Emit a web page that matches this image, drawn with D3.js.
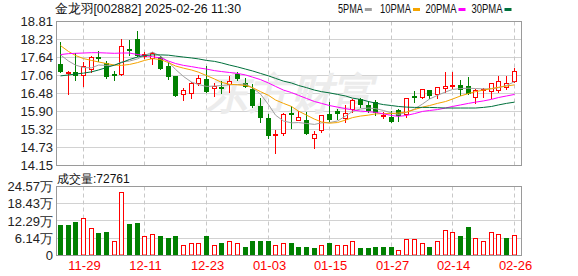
<!DOCTYPE html>
<html>
<head>
<meta charset="utf-8">
<script src="https://cdn.jsdelivr.net/npm/d3@7"></script>
<style>
body { margin: 0; background: #fff; }
svg { display: block; }
text { font-family: "Liberation Sans", Arial, sans-serif; }
</style>
</head>
<body>
<div id="chart"></div>
<script>
"use strict";

const title = '金龙羽[002882] 2025-02-26 11:30';

const dates = [
	'11-26', '11-27', '11-28', '11-29', '12-02', '12-03', '12-04', '12-05', '12-06', '12-09',
	'12-10', '12-11', '12-12', '12-13', '12-16', '12-17', '12-18', '12-19', '12-20', '12-23',
	'12-24', '12-25', '12-26', '12-27', '12-30', '12-31', '01-02', '01-03', '01-06', '01-07',
	'01-08', '01-09', '01-10', '01-13', '01-14', '01-15', '01-16', '01-17', '01-20', '01-21',
	'01-22', '01-23', '01-24', '01-27', '02-05', '02-06', '02-07', '02-10', '02-11', '02-12',
	'02-13', '02-14', '02-17', '02-18', '02-19', '02-20', '02-21', '02-24', '02-25', '02-26'
];

const open = [
	17.44, 17.14, 17.19, 17.07, 17.27, 17.66, 17.48, 17.11, 17.11, 17.92,
	18.24, 17.70, 17.63, 17.66, 17.37, 17.05, 16.45, 16.50, 16.81, 16.95,
	16.66, 16.70, 16.78, 17.10, 16.81, 16.63, 16.09, 15.70, 15.15, 15.19,
	15.86, 15.61, 15.61, 15.03, 15.30, 15.81, 15.90, 15.68, 15.97, 16.29,
	16.10, 16.19, 15.76, 15.73, 15.93, 15.81, 16.39, 16.38, 16.58, 16.45,
	16.65, 16.71, 16.76, 16.72, 16.36, 16.61, 16.56, 16.59, 16.68, 16.89
];
const high = [
	18.14, 17.20, 17.80, 17.50, 17.70, 17.86, 17.53, 17.21, 18.24, 18.21,
	18.50, 17.82, 17.81, 17.70, 17.50, 17.06, 16.67, 16.85, 17.08, 17.37,
	16.81, 16.90, 17.06, 17.19, 16.98, 16.78, 16.32, 15.82, 15.30, 15.84,
	16.09, 15.91, 15.88, 15.28, 15.80, 16.20, 15.98, 16.11, 16.30, 16.35,
	16.24, 16.27, 15.89, 15.92, 15.99, 16.33, 16.57, 16.63, 16.58, 16.68,
	17.18, 17.18, 16.92, 17.00, 16.63, 16.65, 16.83, 17.06, 17.06, 17.30
];
const low = [
	17.19, 16.46, 16.93, 16.73, 17.19, 17.54, 16.99, 16.92, 17.08, 17.73,
	17.69, 17.64, 17.42, 17.27, 16.95, 16.41, 16.26, 16.33, 16.76, 16.53,
	16.41, 16.50, 16.54, 16.92, 16.68, 16.03, 15.56, 15.05, 14.57, 15.14,
	15.35, 15.61, 15.18, 14.73, 15.22, 15.59, 15.65, 15.57, 15.89, 16.05,
	15.88, 15.78, 15.70, 15.56, 15.59, 15.72, 16.19, 16.35, 16.35, 16.33,
	16.53, 16.66, 16.43, 16.45, 16.16, 16.38, 16.33, 16.53, 16.63, 16.86
];
const close = [
	17.22, 17.19, 17.08, 17.37, 17.66, 17.62, 17.05, 17.08, 18.01, 17.89,
	17.73, 17.76, 17.78, 17.31, 17.06, 16.43, 16.58, 16.81, 16.97, 16.56,
	16.72, 16.66, 16.89, 16.99, 16.73, 16.11, 15.73, 15.14, 15.17, 15.81,
	15.81, 15.72, 15.19, 15.17, 15.78, 15.65, 15.85, 15.84, 16.27, 16.14,
	15.96, 15.87, 15.80, 15.59, 15.79, 16.32, 16.37, 16.62, 16.43, 16.68,
	16.71, 16.74, 16.62, 16.51, 16.58, 16.63, 16.81, 16.87, 16.83, 17.20
];

// 成交量, 万手
const volume = [
	10.7, 10.7, 12.1, 13.2, 9.85, 7.95, 8.2, 5.2, 22.7, 11.2,
	11.75, 7.1, 7.5, 7.1, 6.4, 7.1, 3.9, 4.6, 4.3, 7.1,
	3.6, 4.4, 5.0, 4.3, 3.2, 5.3, 5.0, 5.3, 3.6, 4.3,
	4.6, 2.85, 2.85, 2.5, 3.6, 4.3, 3.6, 3.6, 5.0, 2.5,
	2.5, 2.85, 3.2, 3.2, 2.0, 5.7, 5.7, 4.6, 3.2, 5.0,
	9.1, 8.2, 6.8, 10.3, 6.3, 5.0, 8.5, 7.5, 6.4, 7.28
];
// 1 = up day (red bar), 0 = down day (green bar)
const volUp = [
	0, 0, 0, 1, 1, 0, 0, 1, 1, 0,
	0, 1, 1, 0, 0, 0, 1, 1, 1, 0,
	1, 0, 1, 1, 0, 0, 0, 0, 1, 1,
	0, 0, 0, 0, 1, 0, 1, 1, 1, 0,
	0, 0, 0, 0, 1, 1, 1, 1, 0, 1,
	1, 1, 0, 0, 1, 1, 1, 1, 0, 1
];
const lastVolume = '72761';

const ma5 = [
	17.73, 17.53, 17.40, 17.32, 17.31, 17.40, 17.39, 17.39, 17.50, 17.53,
	17.60, 17.71, 17.82, 17.69, 17.50, 17.26, 17.03, 16.85, 16.77, 16.71,
	16.72, 16.74, 16.76, 16.77, 16.79, 16.66, 16.46, 16.12, 15.78, 15.59,
	15.53, 15.54, 15.51, 15.48, 15.53, 15.54, 15.59, 15.75, 15.90, 15.98,
	16.01, 15.99, 15.93, 15.85, 15.80, 15.87, 15.98, 16.14, 16.30, 16.42,
	16.53, 16.61, 16.64, 16.65, 16.64, 16.63, 16.63, 16.67, 16.74, 16.86
];
const ma10 = [
	18.03, 17.84, 17.71, 17.61, 17.55, 17.50, 17.45, 17.40, 17.39, 17.42,
	17.48, 17.55, 17.61, 17.58, 17.48, 17.37, 17.30, 17.24, 17.17, 17.06,
	16.95, 16.84, 16.78, 16.76, 16.74, 16.67, 16.54, 16.42, 16.27, 16.16,
	16.06, 15.91, 15.78, 15.65, 15.56, 15.52, 15.54, 15.62, 15.70, 15.75,
	15.78, 15.82, 15.83, 15.83, 15.85, 15.88, 15.96, 16.04, 16.09, 16.16,
	16.22, 16.30, 16.40, 16.48, 16.54, 16.59, 16.64, 16.68, 16.72, 16.76
];
const ma20 = [
	17.74, 17.77, 17.78, 17.79, 17.80, 17.80, 17.79, 17.78, 17.79, 17.79,
	17.74, 17.71, 17.67, 17.63, 17.53, 17.45, 17.39, 17.35, 17.31, 17.27,
	17.22, 17.19, 17.16, 17.13, 17.08, 17.01, 16.93, 16.82, 16.71, 16.59,
	16.51, 16.42, 16.32, 16.22, 16.16, 16.09, 16.04, 15.99, 15.95, 15.91,
	15.89, 15.87, 15.82, 15.77, 15.74, 15.77, 15.83, 15.90, 15.93, 15.96,
	16.01, 16.06, 16.11, 16.16, 16.20, 16.24, 16.29, 16.35, 16.40, 16.45
];
const ma30 = [
	17.05, 17.08, 17.11, 17.14, 17.18, 17.24, 17.32, 17.40, 17.48, 17.58,
	17.66, 17.71, 17.73, 17.73, 17.72, 17.69, 17.66, 17.63, 17.60, 17.55,
	17.52, 17.47, 17.40, 17.34, 17.27, 17.21, 17.13, 17.05, 16.97, 16.88,
	16.82, 16.74, 16.67, 16.59, 16.54, 16.50, 16.45, 16.40, 16.33, 16.29,
	16.22, 16.17, 16.12, 16.09, 16.06, 16.04, 16.03, 16.03, 16.03, 16.02,
	16.01, 16.01, 16.01, 16.01, 16.01, 16.03, 16.06, 16.11, 16.16, 16.20
];

const maNames = ['5PMA', '10PMA', '20PMA', '30PMA'];
const priceTicks = [18.81, 18.23, 17.64, 17.06, 16.48, 15.90, 15.32, 14.73, 14.15];
const volTicks = [24.57, 18.43, 12.29, 6.14, 0];
const dateTicks = ['11-29', '12-11', '12-23', '01-03', '01-15', '01-27', '02-14', '02-26'];

const W = 578, H = 276;
const P = { left: 56, right: 522, top: 21.5, bottom: 165.5, vTop: 186.5, vBottom: 255.5 };
const RED = '#ff0000', GREEN = '#008000';
const MA_COLORS = ['#a0a0a0', '#f5a400', '#ff00ff', '#00703c'];

const svg = d3.select('#chart').append('svg')
	.attr('width', W)
	.attr('height', H);

const x = d3.scaleBand()
	.domain(dates)
	.range([56.5, 518.2]);
const cx = d => Math.round(x(d) + x.bandwidth() / 2 - 0.5) + 0.5;

const y = d3.scaleLinear().domain([14.15, 18.81]).range([P.bottom, P.top]);
const yv = d3.scaleLinear().domain([0, 24.57]).range([P.vBottom, P.vTop]);
const snap = v => Math.round(v - 0.5) + 0.5;

// grid
const grid = svg.append('g');
grid.selectAll('.hp')
	.data(priceTicks)
	.enter().append('line')
	.attr('x1', P.left).attr('x2', P.right)
	.attr('y1', d => snap(y(d))).attr('y2', d => snap(y(d)))
	.attr('stroke', '#d2d2d2');
grid.selectAll('.hv')
	.data(volTicks)
	.enter().append('line')
	.attr('x1', P.left).attr('x2', P.right)
	.attr('y1', d => snap(yv(d))).attr('y2', d => snap(yv(d)))
	.attr('stroke', '#d2d2d2');
[[P.top, P.bottom], [P.vTop, P.vBottom]].forEach(([t, b]) => {
	grid.selectAll(null)
		.data(dateTicks)
		.enter().append('line')
		.attr('x1', d => cx(d)).attr('x2', d => cx(d))
		.attr('y1', t).attr('y2', b)
		.attr('stroke', '#c8c8c8')
		.attr('stroke-dasharray', '4,3');
});

// watermark
svg.append('text')
	.attr('x', 206)
	.attr('y', 108)
	.attr('font-family', '"Noto Sans CJK SC", sans-serif')
	.attr('font-size', 42)
	.attr('font-weight', 'bold')
	.attr('font-style', 'italic')
	.attr('fill', '#ececec')
	.text('东方财富');

// candles
const idx = d3.range(dates.length);
const candles = svg.append('g');
candles.selectAll('.wick')
	.data(idx)
	.enter().append('line')
	.attr('x1', i => cx(dates[i])).attr('x2', i => cx(dates[i]))
	.attr('y1', i => Math.round(y(high[i])))
	.attr('y2', i => Math.round(y(low[i])) + 1)
	.attr('stroke', i => close[i] >= open[i] ? RED : GREEN);

candles.selectAll('.body')
	.data(idx)
	.enter().append('rect')
	.each(function (i) {
		const up = close[i] >= open[i];
		const t = Math.round(y(Math.max(open[i], close[i])));
		const b = Math.round(y(Math.min(open[i], close[i])));
		const c = cx(dates[i]);
		const r = d3.select(this);
		if (up) {
			r.attr('x', c - 2).attr('y', t + 0.5)
				.attr('width', 4).attr('height', Math.max(b - t, 1))
				.attr('fill', '#fff').attr('stroke', RED);
		} else {
			r.attr('x', c - 2.5).attr('y', t)
				.attr('width', 5).attr('height', Math.max(b - t, 1) + 1)
				.attr('fill', GREEN);
		}
	});

// moving averages
const maLine = d3.line()
	.x((d, i) => cx(dates[i]))
	.y(d => y(d));
svg.append('g')
	.selectAll('path')
	.data([ma5, ma10, ma20, ma30])
	.enter().append('path')
	.attr('d', d => maLine(d))
	.attr('fill', 'none')
	.attr('stroke', (d, k) => MA_COLORS[k])
	.attr('stroke-width', 1);

// volume bars
svg.append('g')
	.selectAll('rect')
	.data(idx)
	.enter().append('rect')
	.each(function (i) {
		const c = cx(dates[i]);
		const t = Math.round(yv(volume[i]));
		const r = d3.select(this);
		if (volUp[i]) {
			r.attr('x', c - 2).attr('y', t + 0.5)
				.attr('width', 4).attr('height', P.vBottom - 1 - t)
				.attr('fill', '#fff').attr('stroke', RED);
		} else {
			r.attr('x', c - 2.5).attr('y', t)
				.attr('width', 5).attr('height', P.vBottom - 0.5 - t)
				.attr('fill', GREEN);
		}
	});

// frames
[[P.top, P.bottom], [P.vTop, P.vBottom]].forEach(([t, b]) => {
	svg.append('rect')
		.attr('x', P.left + 0.5).attr('y', t)
		.attr('width', P.right - P.left - 1).attr('height', b - t)
		.attr('fill', 'none')
		.attr('stroke', '#9a9a9a');
});

// axis labels
svg.append('g')
	.selectAll('text')
	.data(priceTicks)
	.enter().append('text')
	.attr('x', 53)
	.attr('y', d => y(d))
	.attr('dy', '0.36em')
	.attr('text-anchor', 'end')
	.attr('font-size', 13)
	.attr('fill', '#222')
	.text(d => d.toFixed(2));

svg.append('g')
	.selectAll('text')
	.data(volTicks)
	.enter().append('text')
	.attr('x', 53)
	.attr('y', d => yv(d))
	.attr('dy', '0.36em')
	.attr('text-anchor', 'end')
	.attr('font-size', 13)
	.attr('fill', '#222')
	.text(d => d === 0 ? '0' : d.toFixed(2) + '万');

svg.append('g')
	.selectAll('text')
	.data(dateTicks)
	.enter().append('text')
	.attr('x', d => cx(d) + 1)
	.attr('y', 270)
	.attr('text-anchor', 'middle')
	.attr('font-size', 13)
	.attr('fill', RED)
	.text(d => d);

// title, volume caption
svg.append('text')
	.attr('x', 55)
	.attr('y', 13)
	.attr('font-size', 12.5)
	.attr('font-family', '"Noto Sans CJK SC", sans-serif')
	.attr('fill', '#111')
	.attr('textLength', 186)
	.attr('lengthAdjust', 'spacingAndGlyphs')
	.text(title);

svg.append('text')
	.attr('x', 57)
	.attr('y', 182.5)
	.attr('font-size', 12)
	.attr('fill', '#111')
	.text('成交量:' + lastVolume);

// legend
const legendX = [338, 380, 425.5, 471.5];
const legend = svg.append('g')
	.selectAll('g')
	.data(maNames)
	.enter().append('g')
	.attr('transform', (d, k) => `translate(${legendX[k]}, 0)`);
legend.append('text')
	.attr('y', 13)
	.attr('font-family', '"Liberation Serif", serif')
	.attr('font-size', 12.5)
	.attr('fill', '#111')
	.attr('textLength', d => d.length * 6.2)
	.attr('lengthAdjust', 'spacingAndGlyphs')
	.text(d => d);
legend.append('rect')
	.attr('x', d => d.length * 6.2 + 2)
	.attr('y', 8)
	.attr('width', 7)
	.attr('height', 3)
	.attr('fill', (d, k) => MA_COLORS[k]);
</script>
</body>
</html>
